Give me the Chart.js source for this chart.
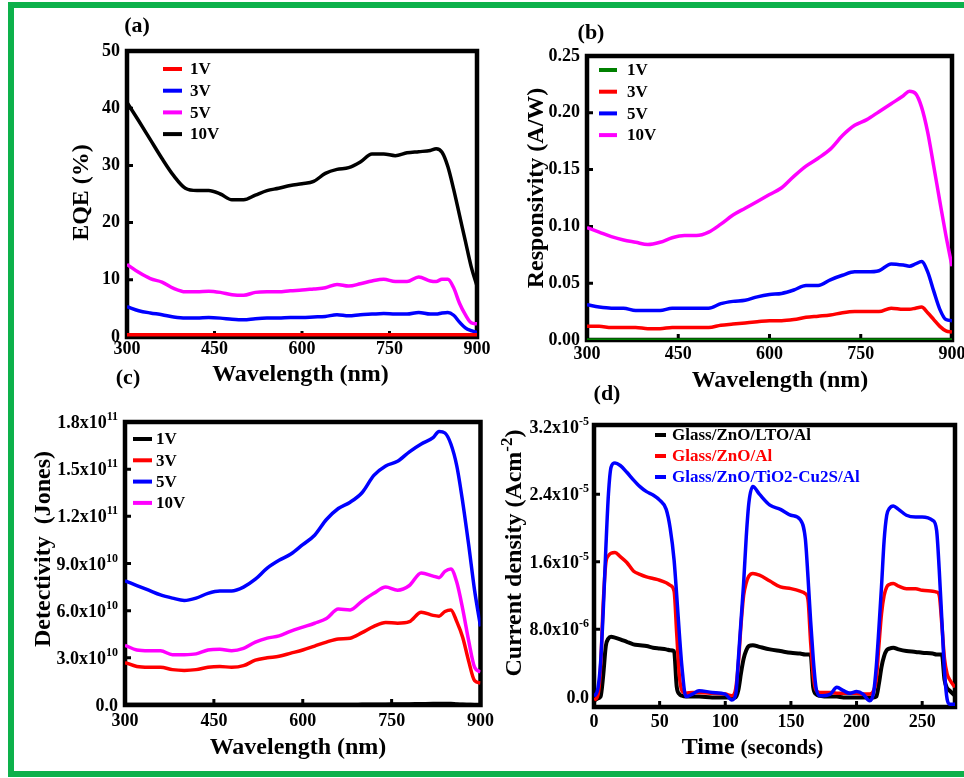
<!DOCTYPE html>
<html>
<head>
<meta charset="utf-8">
<script src="https://cdn.jsdelivr.net/npm/chart.js@4.4.1/dist/chart.umd.min.js"></script>
<style>
  html, body { margin: 0; padding: 0; background: #fff; overflow: hidden; }
  #page { position: relative; width: 964px; height: 778px; overflow: hidden; background: #fff; }
  #frame {
    position: absolute; left: 8px; top: 2px; width: 1000px; height: 775px;
    border: 6px solid #0db14b; border-right: none; box-sizing: border-box;
  }
  canvas { position: absolute; }
  .tag {
    position: absolute; transform: translate(-50%, -50%);
    font: bold 22px 'Liberation Serif', 'Times New Roman', serif; color: #000;
  }
</style>
</head>
<body>
<div id="page">
  <div id="frame"></div>
  <canvas id="eqeChart" width="480" height="358"></canvas>
  <canvas id="respChart" width="490" height="365"></canvas>
  <canvas id="detChart" width="480" height="360"></canvas>
  <canvas id="jtChart" width="490" height="360"></canvas>
  <div class="tag" style="left:137px;top:25px">(a)</div>
  <div class="tag" style="left:591px;top:32px">(b)</div>
  <div class="tag" style="left:128px;top:377px">(c)</div>
  <div class="tag" style="left:607px;top:393px">(d)</div>
</div>
<script>
const SERIF = "'Liberation Serif', 'Times New Roman', serif";

// ---- shared wavelength grid (nm) ----
const wavelength = [300, 320, 340, 360, 380, 400, 420, 440, 460, 480,
                    500, 520, 540, 560, 580, 600, 620, 640, 660, 680,
                    700, 720, 740, 760, 780, 800,
                    820, 830, 840, 850, 860, 870, 880, 890, 900];
const wlTicks = [300, 450, 600, 750, 900];

// ---- (a) EQE (%) ----
const eqe1V = [0.4, 0.4, 0.4, 0.4, 0.4, 0.4, 0.4, 0.4, 0.4, 0.4,
               0.4, 0.4, 0.4, 0.4, 0.4, 0.4, 0.4, 0.4, 0.4, 0.4,
               0.4, 0.4, 0.4, 0.4, 0.4, 0.4,
               0.4, 0.4, 0.4, 0.4, 0.4, 0.4, 0.4, 0.4, 0.4];
const eqe3V = [5.3, 4.6, 4.2, 3.9, 3.5, 3.3, 3.3, 3.4, 3.3, 3.1,
               3.0, 3.2, 3.3, 3.3, 3.4, 3.4, 3.5, 3.6, 3.9, 3.7,
               3.9, 4.0, 4.1, 4.0, 4.0, 4.3,
               4.0, 4.0, 4.2, 4.3, 3.8, 2.6, 1.6, 1.1, 0.8];
const eqe5V = [12.7, 11.3, 10.2, 9.6, 8.5, 7.9, 7.9, 8.0, 7.8, 7.4,
               7.3, 7.8, 7.9, 7.9, 8.1, 8.2, 8.4, 8.6, 9.2, 8.9,
               9.3, 9.8, 10.1, 9.7, 9.7, 10.5,
               9.8, 9.7, 10.1, 10.1, 8.6, 5.9, 3.9, 2.5, 2.3];
const eqe10V = [41.0, 37.8, 34.5, 31.2, 28.2, 26.0, 25.6, 25.6, 25.0, 24.0,
                24.0, 24.8, 25.6, 26.0, 26.5, 26.8, 27.2, 28.6, 29.3, 29.6,
                30.6, 32.0, 32.0, 31.7, 32.2, 32.4,
                32.6, 32.9, 32.3, 29.8, 25.8, 21.3, 16.8, 12.3, 8.9];
const eqeTicks = [0, 10, 20, 30, 40, 50];

// ---- (b) Responsivity (A/W) ----
const resp1V = [0, 0, 0, 0, 0, 0, 0, 0, 0, 0,
                0, 0, 0, 0, 0, 0, 0, 0, 0, 0,
                0, 0, 0, 0, 0, 0,
                0, 0, 0, 0, 0, 0, 0, 0, 0];
const resp3V = [0.012, 0.012, 0.011, 0.011, 0.011, 0.010, 0.010, 0.011, 0.011, 0.011,
                0.011, 0.013, 0.014, 0.015, 0.016, 0.017, 0.017, 0.018, 0.020, 0.021,
                0.022, 0.024, 0.025, 0.025, 0.025, 0.028,
                0.027, 0.027, 0.028, 0.029, 0.024, 0.018, 0.012, 0.008, 0.007];
const resp5V = [0.031, 0.029, 0.028, 0.028, 0.026, 0.026, 0.026, 0.028, 0.028, 0.028,
                0.028, 0.032, 0.034, 0.035, 0.038, 0.040, 0.041, 0.044, 0.048, 0.048,
                0.053, 0.057, 0.060, 0.060, 0.061, 0.067,
                0.066, 0.065, 0.067, 0.069, 0.060, 0.043, 0.027, 0.018, 0.017];
const resp10V = [0.099, 0.095, 0.091, 0.088, 0.086, 0.084, 0.086, 0.090, 0.092, 0.092,
                 0.095, 0.102, 0.110, 0.116, 0.122, 0.128, 0.134, 0.144, 0.153, 0.160,
                 0.168, 0.180, 0.189, 0.194, 0.201, 0.208,
                 0.215, 0.219, 0.217, 0.205, 0.183, 0.153, 0.122, 0.092, 0.065];
const respTicks = [0, 0.05, 0.10, 0.15, 0.20, 0.25];
const respTickLabels = ["0.00", "0.05", "0.10", "0.15", "0.20", "0.25"];

// ---- (c) Detectivity, in units of 10^10 Jones ----
const det1V = [0.03, 0.03, 0.03, 0.03, 0.03, 0.03, 0.03, 0.03, 0.03, 0.03,
               0.03, 0.03, 0.03, 0.03, 0.03, 0.03, 0.03, 0.03, 0.03, 0.03,
               0.04, 0.05, 0.05, 0.06, 0.07, 0.08,
               0.09, 0.1, 0.1, 0.09, 0.06, 0.04, 0.03, 0.02, 0.02];
const det3V = [2.7, 2.45, 2.4, 2.4, 2.25, 2.2, 2.25, 2.4, 2.45, 2.4,
               2.5, 2.85, 3.0, 3.1, 3.3, 3.5, 3.75, 4.0, 4.2, 4.25,
               4.6, 5.0, 5.25, 5.2, 5.3, 5.9,
               5.7, 5.65, 5.95, 6.05, 5.3, 4.3, 2.8, 1.55, 1.4];
const det5V = [7.9, 7.6, 7.3, 7.0, 6.8, 6.65, 6.8, 7.1, 7.25, 7.25,
               7.5, 8.0, 8.7, 9.2, 9.6, 10.2, 10.8, 11.8, 12.5, 12.9,
               13.5, 14.6, 15.2, 15.5, 16.1, 16.6,
               17.0, 17.4, 17.3, 16.6, 15.2, 12.9, 10.2, 7.3, 5.0];
const det10V = [3.8, 3.5, 3.45, 3.45, 3.2, 3.2, 3.25, 3.5, 3.55, 3.45,
                3.6, 4.0, 4.25, 4.4, 4.7, 4.95, 5.2, 5.5, 6.1, 6.05,
                6.6, 7.1, 7.5, 7.3, 7.6, 8.4,
                8.2, 8.1, 8.5, 8.65, 7.8, 6.1, 4.1, 2.4, 2.1];
const detTicks = [0, 3, 6, 9, 12, 15, 18];
const detTickBases = ["0.0", "3.0x10", "6.0x10", "9.0x10", "1.2x10", "1.5x10", "1.8x10"];
const detTickExps = ["", "10", "10", "10", "11", "11", "11"];

// ---- (d) transient current density, in units of 10^-5 A/cm2 ----
const timeS = [0, 3, 5, 7, 9, 11, 13, 16, 20, 25,
               30, 35, 40, 45, 50, 55, 58, 61, 63, 65,
               67, 70, 75, 80, 90, 100, 105, 108, 110, 112,
               114, 116, 118, 121, 126, 134, 142, 150, 157, 161,
               163, 165, 167, 169, 172, 180, 185, 190, 195, 200,
               205, 210, 213, 215, 217, 219, 221, 223, 225, 228,
               232, 238, 245, 250, 258, 261, 263, 265, 267, 269,
               271, 275];
const jLTO = [-0.05, -0.02, 0.0, 0.25, 0.6, 0.69, 0.71, 0.70, 0.68, 0.65,
              0.62, 0.61, 0.60, 0.58, 0.57, 0.56, 0.55, 0.54, 0.12, 0.03,
              0.01, 0.0, 0.0, 0.0, -0.01, -0.01, -0.01, -0.01, 0.08, 0.28,
              0.45, 0.55, 0.60, 0.61, 0.59, 0.56, 0.54, 0.52, 0.51, 0.50,
              0.50, 0.50, 0.11, 0.03, 0.01, 0.0, 0.0, -0.01, -0.01, -0.01,
              -0.01, -0.01, -0.01, 0.0, 0.15, 0.35, 0.48, 0.55, 0.57, 0.58,
              0.56, 0.54, 0.53, 0.52, 0.51, 0.50, 0.50, 0.50, 0.2, 0.1,
              0.07, 0.01];
const jZnO = [-0.04, 0.02, 0.35, 1.1, 1.58, 1.67, 1.70, 1.71, 1.66, 1.59,
              1.49, 1.45, 1.42, 1.40, 1.38, 1.35, 1.32, 1.25, 0.75, 0.25,
              0.07, 0.04, 0.05, 0.05, 0.04, 0.03, 0.01, 0.1, 0.4, 0.85,
              1.2, 1.35, 1.43, 1.46, 1.44, 1.37, 1.30, 1.28, 1.25, 1.22,
              1.15, 0.65, 0.25, 0.08, 0.05, 0.05, 0.04, 0.04, 0.04, 0.04,
              0.03, 0.03, 0.07, 0.2, 0.6, 0.98, 1.2, 1.30, 1.33, 1.34,
              1.31, 1.28, 1.28, 1.26, 1.25, 1.24, 1.2, 0.85, 0.45, 0.27,
              0.2, 0.11];
const jTiO2 = [0.0, 0.1, 0.4, 1.0, 1.75, 2.4, 2.72, 2.77, 2.74, 2.66,
               2.57, 2.49, 2.43, 2.39, 2.33, 2.22, 2.0, 1.62, 1.2, 0.75,
               0.35, 0.0, 0.03, 0.07, 0.05, 0.03, -0.04, 0.03, 0.45, 0.9,
               1.35, 1.9, 2.3, 2.49, 2.40, 2.27, 2.22, 2.15, 2.10, 1.87,
               1.42, 0.9, 0.45, 0.12, 0.01, 0.03, 0.11, 0.07, 0.04, 0.06,
               0.03, -0.05, 0.05, 0.35, 0.8, 1.3, 1.85, 2.15, 2.23, 2.26,
               2.22, 2.15, 2.13, 2.13, 2.09, 1.97, 1.5, 0.9, 0.3, -0.03,
               -0.09, -0.09];
const timeTicks = [0, 50, 100, 150, 200, 250];
const jTicks = [0, 0.8, 1.6, 2.4, 3.2];
const jTickBases = ["0.0", "8.0x10", "1.6x10", "2.4x10", "3.2x10"];
const jTickExps = ["", "-6", "-5", "-5", "-5"];

// draw a run of text pieces (some raised / smaller) centred on cx, cy
function drawParts(ctx, parts, cx, cy, vertical) {
    ctx.save();
    ctx.translate(cx, cy);
    if (vertical) ctx.rotate(-Math.PI / 2);
    ctx.textBaseline = "alphabetic";
    ctx.textAlign = "left";
    ctx.fillStyle = "#000";
    let total = 0;
    const widths = parts.map(p => {
        ctx.font = "bold " + p.size + "px " + SERIF;
        const w = ctx.measureText(p.text).width;
        total += w;
        return w;
    });
    let x = -total / 2;
    parts.forEach((p, i) => {
        ctx.font = "bold " + p.size + "px " + SERIF;
        ctx.fillText(p.text, x, 8 - (p.rise || 0));
        x += widths[i];
    });
    ctx.restore();
}

// thick box round the plot area plus small inward ticks
const boxFrame = {
    id: "boxFrame",
    beforeDatasetsDraw(chart) {
        const { ctx, chartArea: a, scales } = chart;
        ctx.save();
        ctx.strokeStyle = "#000";
        ctx.lineWidth = 4.5;
        ctx.strokeRect(a.left, a.top, a.right - a.left, a.bottom - a.top);
        ctx.lineWidth = 3;
        ctx.beginPath();
        scales.x.ticks.forEach(t => {
            const px = scales.x.getPixelForValue(t.value);
            if (px > a.left + 4 && px < a.right - 4) {
                ctx.moveTo(px, a.bottom);
                ctx.lineTo(px, a.bottom - 6);
            }
        });
        scales.y.ticks.forEach(t => {
            const py = scales.y.getPixelForValue(t.value);
            if (py > a.top + 4 && py < a.bottom - 4) {
                ctx.moveTo(a.left, py);
                ctx.lineTo(a.left + 6, py);
            }
        });
        ctx.stroke();
        ctx.restore();
    }
};

// legend drawn inside the plot area, top-left
const boxLegend = {
    id: "boxLegend",
    afterDatasetsDraw(chart, args, opts) {
        const { ctx, chartArea: a } = chart;
        ctx.save();
        ctx.font = "bold " + opts.size + "px " + SERIF;
        ctx.textBaseline = "middle";
        ctx.textAlign = "left";
        chart.data.datasets.forEach((ds, i) => {
            const y = a.top + opts.y + i * opts.rowH;
            ctx.strokeStyle = ds.borderColor;
            ctx.lineWidth = 4;
            ctx.beginPath();
            ctx.moveTo(a.left + opts.x, y);
            ctx.lineTo(a.left + opts.x + opts.w, y);
            ctx.stroke();
            ctx.fillStyle = opts.colorText ? ds.borderColor : "#000";
            ctx.fillText(ds.label, a.left + opts.tx, y + 1);
        });
        ctx.restore();
    }
};

// axis titles and power-of-ten tick labels
const axisText = {
    id: "axisText",
    afterDraw(chart, args, opts) {
        const { ctx, chartArea: a, scales } = chart;
        drawParts(ctx, opts.xTitle, opts.xTitleAt[0] - opts.origin[0], opts.xTitleAt[1] - opts.origin[1], false);
        drawParts(ctx, opts.yTitle, opts.yTitleAt[0] - opts.origin[0], opts.yTitleAt[1] - opts.origin[1], true);
        if (!opts.bases) return;
        ctx.save();
        ctx.fillStyle = "#000";
        ctx.textBaseline = "alphabetic";
        ctx.textAlign = "right";
        opts.values.forEach((v, i) => {
            const py = scales.y.getPixelForValue(v);
            let x = a.left - opts.pad;
            const e = opts.exps[i];
            if (e) {
                ctx.font = "bold 12px " + SERIF;
                ctx.fillText(e, x, py - 2);
                x -= ctx.measureText(e).width;
            }
            ctx.font = "bold 18px " + SERIF;
            ctx.fillText(opts.bases[i], x, py + 6);
        });
        ctx.restore();
    }
};

function tickFont(size) {
    return { family: SERIF, size: size, weight: "bold" };
}

function makePanel(cfg) {
    const canvas = document.getElementById(cfg.canvas);
    canvas.style.left = cfg.origin[0] + "px";
    canvas.style.top = cfg.origin[1] + "px";
    return new Chart(canvas.getContext("2d"), {
        type: "line",
        data: {
            datasets: cfg.series.map(s => ({
                label: s.label,
                data: cfg.xs.map((x, i) => ({ x: x, y: s.values[i] })),
                borderColor: s.color,
                borderWidth: s.width || 3.5,
                pointRadius: 0,
                fill: false,
                cubicInterpolationMode: "monotone",
                order: s.order || 0
            }))
        },
        options: {
            responsive: false,
            animation: false,
            events: [],
            layout: { padding: cfg.pad },
            plugins: {
                legend: { display: false },
                tooltip: { enabled: false },
                boxLegend: cfg.legend,
                axisText: {
                    origin: cfg.origin,
                    xTitle: cfg.xTitle, xTitleAt: cfg.xTitleAt,
                    yTitle: cfg.yTitle, yTitleAt: cfg.yTitleAt,
                    values: cfg.yTicks, bases: cfg.yBases, exps: cfg.yExps, pad: cfg.yTickPad
                }
            },
            scales: {
                x: {
                    type: "linear",
                    min: cfg.xMin,
                    max: cfg.xMax,
                    afterBuildTicks: s => { s.ticks = cfg.xTicks.map(v => ({ value: v })); },
                    afterFit: s => { s.height = cfg.xH; },
                    grid: { display: false, drawTicks: false },
                    border: { display: false },
                    ticks: { font: tickFont(18), color: "#000", padding: cfg.xTickPad, maxRotation: 0, autoSkip: false },
                    title: { display: false }
                },
                y: {
                    type: "linear",
                    min: cfg.yMin,
                    max: cfg.yMax,
                    afterBuildTicks: s => { s.ticks = cfg.yTicks.map(v => ({ value: v })); },
                    afterFit: s => { s.width = cfg.yW; },
                    grid: { display: false, drawTicks: false },
                    border: { display: false },
                    ticks: {
                        display: !cfg.yBases,
                        font: tickFont(18), color: "#000", padding: cfg.yTickPad, autoSkip: false,
                        callback: v => cfg.yLabels ? cfg.yLabels[cfg.yTicks.indexOf(v)] : String(v)
                    },
                    title: { display: false }
                }
            }
        },
        plugins: [boxFrame, boxLegend, axisText]
    });
}

makePanel({
    canvas: "eqeChart", origin: [30, 30],
    xs: wavelength,
    series: [
        { label: "1V", values: eqe1V, color: "#ff0000" },
        { label: "3V", values: eqe3V, color: "#0000ff" },
        { label: "5V", values: eqe5V, color: "#ff00ff" },
        { label: "10V", values: eqe10V, color: "#000000" }
    ],
    xMin: 300, xMax: 900, xTicks: wlTicks,
    yMin: 0, yMax: 50, yTicks: eqeTicks,
    xTitle: [{ text: "Wavelength (nm)", size: 24 }], xTitleAt: [300.5, 373],
    yTitle: [{ text: "EQE (%)", size: 24 }], yTitleAt: [80, 192.5],
    pad: { top: 21, right: 33, left: 0, bottom: 0 },
    yW: 97, yTickPad: 7, xH: 51, xTickPad: 2,
    legend: { x: 36, w: 19, tx: 63, y: 18, rowH: 21.7, size: 17 }
});

makePanel({
    canvas: "respChart", origin: [490, 30],
    xs: wavelength,
    series: [
        { label: "1V", values: resp1V, color: "#008000" },
        { label: "3V", values: resp3V, color: "#ff0000" },
        { label: "5V", values: resp5V, color: "#0000ff" },
        { label: "10V", values: resp10V, color: "#ff00ff" }
    ],
    xMin: 300, xMax: 900, xTicks: wlTicks,
    yMin: 0, yMax: 0.25, yTicks: respTicks, yLabels: respTickLabels,
    xTitle: [{ text: "Wavelength (nm)", size: 24 }], xTitleAt: [780, 379],
    yTitle: [{ text: "Responsivity (A/W)", size: 24 }], yTitleAt: [535, 188],
    pad: { top: 26, right: 28, left: 0, bottom: 0 },
    yW: 97, yTickPad: 7, xH: 55, xTickPad: 4,
    legend: { x: 12, w: 18, tx: 40, y: 14, rowH: 21.7, size: 17 }
});

makePanel({
    canvas: "detChart", origin: [20, 400],
    xs: wavelength,
    series: [
        { label: "1V", values: det1V, color: "#000000" },
        { label: "3V", values: det3V, color: "#ff0000" },
        { label: "5V", values: det5V, color: "#0000ff" },
        { label: "10V", values: det10V, color: "#ff00ff" }
    ],
    xMin: 300, xMax: 900, xTicks: wlTicks,
    yMin: 0, yMax: 18, yTicks: detTicks, yBases: detTickBases, yExps: detTickExps,
    xTitle: [{ text: "Wavelength (nm)", size: 24 }], xTitleAt: [298, 745.7],
    yTitle: [{ text: "Detectivity  (Jones)", size: 24 }], yTitleAt: [42, 549],
    pad: { top: 22, right: 19.5, left: 0, bottom: 0 },
    yW: 105, yTickPad: 7, xH: 55, xTickPad: 6,
    legend: { x: 8, w: 19, tx: 31, y: 17, rowH: 21.3, size: 17 }
});

makePanel({
    canvas: "jtChart", origin: [490, 400],
    xs: timeS,
    series: [
        { label: "Glass/ZnO/LTO/Al", values: jLTO, color: "#000000", width: 4, order: 2 },
        { label: "Glass/ZnO/Al", values: jZnO, color: "#ff0000", order: 1 },
        { label: "Glass/ZnO/TiO2-Cu2S/Al", values: jTiO2, color: "#0000ff", order: 0 }
    ],
    xMin: 0, xMax: 275, xTicks: timeTicks,
    yMin: -0.123, yMax: 3.22, yTicks: jTicks, yBases: jTickBases, yExps: jTickExps,
    xTitle: [{ text: "Time ", size: 24 }, { text: "(seconds)", size: 21 }], xTitleAt: [752.5, 745.7],
    yTitle: [{ text: "Current density (Acm", size: 24 }, { text: "-2", size: 17, rise: 9 }, { text: ")", size: 24 }],
    yTitleAt: [513, 553],
    pad: { top: 25, right: 25, left: 0, bottom: 0 },
    yW: 104, yTickPad: 5, xH: 53, xTickPad: 4.5,
    legend: { x: 61, w: 11, tx: 78, y: 10, rowH: 21, size: 17, colorText: true }
});
</script>
</body>
</html>
